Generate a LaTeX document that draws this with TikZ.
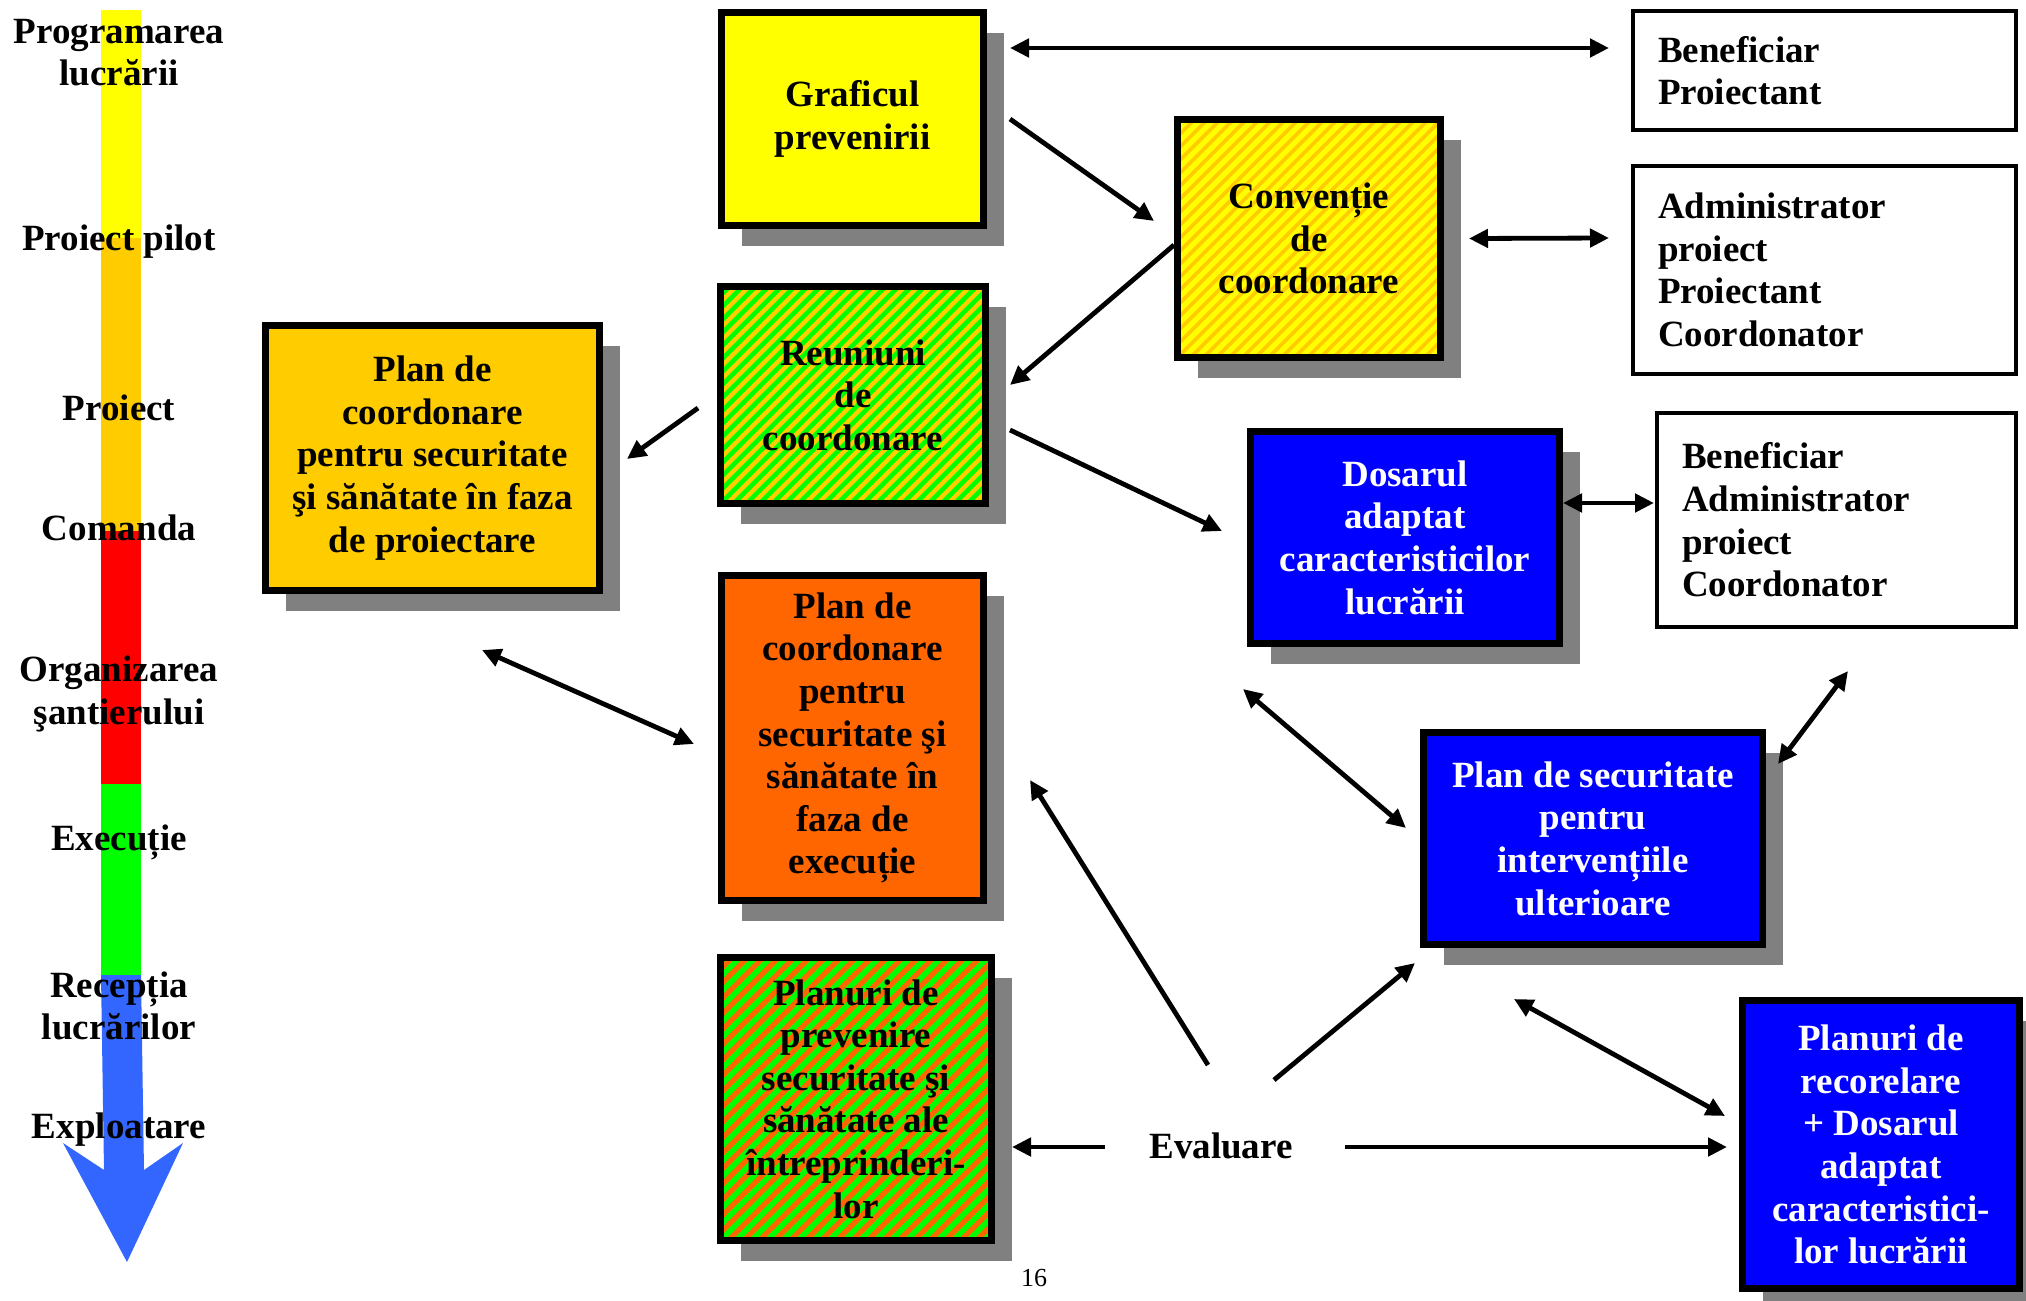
\documentclass[tikz,border=0pt]{standalone}
\usepackage{fontspec}
\setmainfont{Liberation Serif}
\usetikzlibrary{arrows.meta,shadows}
\definecolor{yellowA}{HTML}{FFFF00}
\definecolor{orangeA}{HTML}{FFCC00}
\definecolor{orangeB}{HTML}{FF6600}
\definecolor{redA}{HTML}{FF0000}
\definecolor{greenA}{HTML}{00FF00}
\definecolor{blueA}{HTML}{0000FF}
\definecolor{blueB}{HTML}{3366FF}
\definecolor{shadowgray}{HTML}{808080}
\tikzset{stripes/.style n args={4}{fill=#1, path picture={
    \foreach \k in {-32,...,32}
      \draw[#2, line width=#4] ([shift={(\k*#3,0)}]path picture bounding box.south west) -- ++(700,-700);}}}
\begin{document}
\begin{tikzpicture}[x=0.5pt, y=-0.5pt, font=\fontsize{18.5}{21.3}\selectfont\bfseries]
      \tikzstyle{box} = [draw=black, line width=3.5pt, align=center, inner sep=0pt,
        drop shadow={shadow xshift=10pt, shadow yshift=-10pt, fill=shadowgray, opacity=1}]
      \tikzstyle{list} = [draw=black, line width=2pt, align=left, inner xsep=12.5pt, inner ysep=0pt]
      \tikzstyle{arr} = [line width=2.4pt, -{Triangle[length=9.5pt,width=9pt]}]
      \tikzstyle{dbl} = [line width=2.4pt, {Triangle[length=9.5pt,width=9pt]}-{Triangle[length=9.5pt,width=9pt]}]
      \useasboundingbox (0,0) rectangle (2026,1301);
      % time axis
      \fill[yellowA] (101,10) rectangle (141,238);
      \fill[orangeA] (101,238) rectangle (141,531);
      \fill[redA] (101,531) rectangle (141,784);
      \fill[greenA] (101,784) rectangle (141,975);
      \fill[blueB] (101,975) -- (141,975) -- (144,1170) -- (183,1143) -- (127,1262)
        -- (63,1143) -- (104,1170) -- cycle;
      \node (prog) [align=center] at (119,52.5) {Programarea\\lucrării};
      \node (pilot) at (119,242) {Proiect pilot};
      \node (proiect) at (119,408) {Proiect};
      \node (comanda) at (119,528) {Comanda};
      \node (org) [align=center] at (119,694) {Organizarea\\şantierului};
      \node (exec) at (119,842) {Execuție};
      \node (recep) [align=center] at (119,1006) {Recepția\\lucrărilor};
      \node (expl) at (119,1130) {Exploatare};
      % documents
      \node (graf) [box, fill=yellowA, minimum width=131pt, minimum height=106.5pt] at (852.5,119) {Graficul\\prevenirii};
      \node (conv) [box, stripes={yellowA}{orangeA}{13}{1.85pt}, minimum width=131.5pt, minimum height=119pt] at (1309,238.5) {Convenție\\de\\coordonare};
      \node (reun) [box, stripes={orangeA}{greenA}{13}{2.3pt}, minimum width=132.5pt, minimum height=108.5pt] at (853,395) {Reuniuni\\de\\coordonare};
      \node (pproi) [box, fill=orangeA, minimum width=167pt, minimum height=132.5pt] at (432.5,458) {Plan de\\coordonare\\pentru securitate\\şi sănătate în faza\\de proiectare};
      \node (pexec) [box, fill=orangeB, minimum width=131pt, minimum height=162.5pt] at (852.5,738) {Plan de\\coordonare\\pentru\\securitate şi\\sănătate în\\faza de\\execuție};
      \node (pprev) [box, stripes={orangeB}{greenA}{15.5}{2.75pt}, minimum width=135.5pt, minimum height=141.5pt] at (856,1099) {Planuri de\\prevenire\\securitate şi\\sănătate ale\\întreprinderi-\\lor};
      \node (dos) [box, fill=blueA, text=white, minimum width=154.5pt, minimum height=106pt] at (1405,537.5) {Dosarul\\adaptat\\caracteristicilor\\lucrării};
      \node (psec) [box, fill=blueA, text=white, minimum width=169.5pt, minimum height=106pt] at (1593,838.5) {Plan de securitate\\pentru\\intervențiile\\ulterioare};
      \node (prec) [box, fill=blueA, text=white, minimum width=138.5pt, minimum height=144pt] at (1881,1144.5) {Planuri de\\recorelare\\+ Dosarul\\adaptat\\caracteristici-\\lor lucrării};
      % participants
      \node (ben1) [list, text width=166.5pt, minimum height=59.5pt] at (1824.5,70.5) {Beneficiar\\Proiectant};
      \node (adm) [list, text width=166.5pt, minimum height=104pt] at (1824.5,270) {Administrator\\proiect\\Proiectant\\Coordonator};
      \node (ben2) [list, text width=154.5pt, minimum height=107pt] at (1836.5,520) {Beneficiar\\Administrator\\proiect\\Coordonator};
      \node (eval) at (1221,1146) {Evaluare};
      \node (pag) [font=\fontsize{13}{15}\selectfont] at (1034,1278) {16};
      % links
      \draw[dbl] ([shift={(23,-71)}]graf.east) -- ([shift={(-22,-22.5)}]ben1.west);
      \draw[arr] ([shift={(23,0)}]graf.east) -- ([shift={(-20,-17.5)}]conv.west);
      \draw[arr] ([shift={(0,6.5)}]conv.west) -- ([shift={(21,-10)}]reun.east);
      \draw[dbl] ([shift={(25,0)}]conv.east) -- ([shift={(-22,-32)}]adm.west);
      \draw[arr] ([shift={(-19,13)}]reun.west) -- ([shift={(24,1)}]pproi.east);
      \draw[arr] ([shift={(21,35)}]reun.east) -- ([shift={(-25,-6.5)}]dos.west);
      \draw[dbl] ([shift={(0,-34.5)}]dos.east) -- ([shift={(-1,-17)}]ben2.west);
      \draw[dbl] ([shift={(49.5,56)}]pproi.south) -- ([shift={(-24,6)}]pexec.west);
      \draw[dbl] ([shift={(-4,42)}]dos.south west) -- ([shift={(-14,-10.5)}]psec.west);
      \draw[dbl] ([shift={(12,35)}]psec.north east) -- ([shift={(11.5,42)}]ben2.south);
      \draw[arr] ([shift={(-13,-81)}]eval.center) -- ([shift={(43,42)}]pexec.east);
      \draw[arr] ([shift={(53,-66)}]eval.center) -- ([shift={(-5,15)}]psec.south west);
      \draw[arr] ([shift={(-116,1)}]eval.center) -- ([shift={(17,48)}]pprev.east);
      \draw[arr] ([shift={(124,1)}]eval.center) -- ([shift={(-12,2.5)}]prec.west);
      \draw[dbl] ([shift={(-79,51)}]psec.south) -- ([shift={(-14,-28.5)}]prec.west);
\end{tikzpicture}
\end{document}
